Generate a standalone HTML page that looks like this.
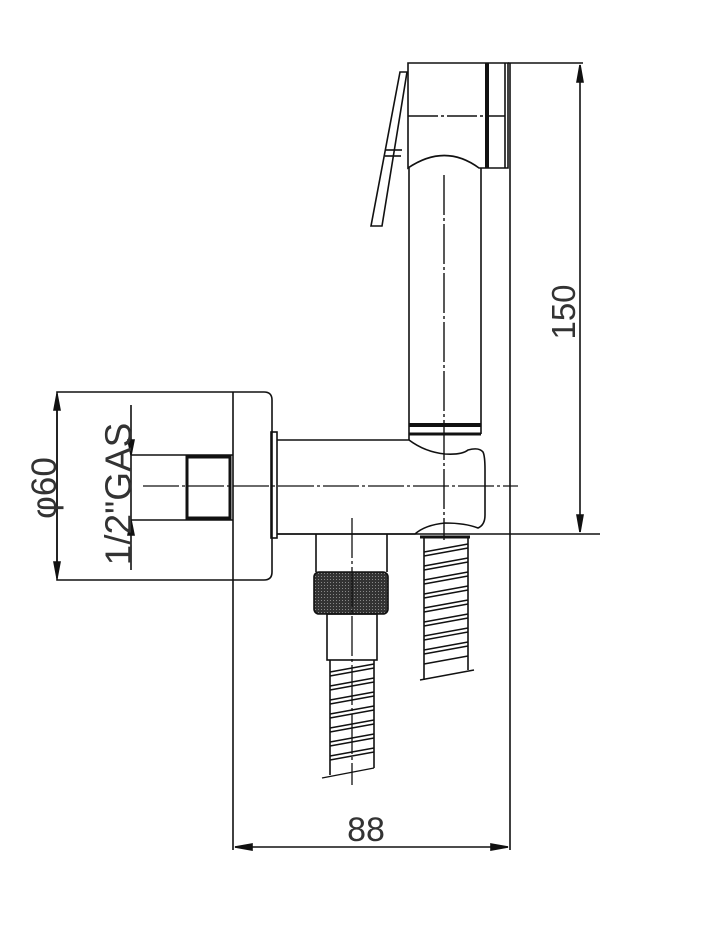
<!DOCTYPE html>
<html><head><meta charset="utf-8"><style>
html,body{margin:0;padding:0;background:#fff;}
svg{display:block;}
text{font-family:"Liberation Sans","DejaVu Sans",sans-serif;fill:#333;}
</style></head><body>
<svg width="703" height="950" viewBox="0 0 703 950" xmlns="http://www.w3.org/2000/svg">
<defs>
<pattern id="knurl" width="3" height="3" patternUnits="userSpaceOnUse">
<rect width="3" height="3" fill="#333"/><rect width="1" height="1" fill="#888"/>
</pattern>
</defs>
<g fill="none" stroke="#111" stroke-width="1.6">
<path d="M57,392 H264 Q272,392 272,400 V572 Q272,580 264,580 H57 Z"/>
<line x1="233" y1="392" x2="233" y2="850"/>
<line x1="57" y1="394" x2="57" y2="578"/>
<path d="M54,410 L57,394 L60,410 Z M54,562 L57,578 L60,562 Z" fill="#111"/>
<line x1="131" y1="405" x2="131" y2="570"/>
<path d="M128,440 L131,455 L134,440 Z M128,535 L131,520 L134,535 Z" fill="#111"/>
<line x1="131" y1="455" x2="233" y2="455"/>
<line x1="131" y1="520" x2="233" y2="520"/>
<rect x="187" y="457" width="43" height="61" stroke-width="3"/>
<line x1="187" y1="455" x2="187" y2="520" stroke-width="3"/>
<line x1="143" y1="486" x2="518" y2="486" stroke-width="1.2" stroke-dasharray="36,3,3,3"/>
<rect x="271" y="432" width="6" height="106"/>
<path d="M277,440 H409 Q425,452 445,454 Q462,455 468,450 Q479,447 483,452 Q485,456 485,470 V515 Q485,525 478,528 Q465,523 445,523 Q425,525 415,534 H277"/>
<line x1="277" y1="534" x2="600" y2="534"/>
<line x1="409" y1="168" x2="409" y2="440"/>
<line x1="481" y1="168" x2="481" y2="434"/>
<line x1="409" y1="425" x2="481" y2="425" stroke-width="4"/>
<line x1="409" y1="434" x2="481" y2="434" stroke-width="3"/>
<line x1="444" y1="175" x2="444" y2="540" stroke-width="1.4" stroke-dasharray="40,3,3,3"/>
<path d="M408,63 H508 V168 H479 Q445,143 408,168 Z"/>
<line x1="487" y1="63" x2="487" y2="168" stroke-width="4"/>
<line x1="505" y1="63" x2="505" y2="168"/>
<line x1="408" y1="116" x2="505" y2="116" stroke-dasharray="30,3,3,3"/>
<path d="M400,72 L407,72 L382,226 L371,226 Z"/>
<line x1="386" y1="150" x2="402" y2="150"/>
<line x1="385" y1="156" x2="401" y2="156"/>
<line x1="508" y1="63" x2="583" y2="63"/>
<line x1="580" y1="65" x2="580" y2="532"/>
<path d="M577,82 L580,65 L583,82 Z M577,515 L580,532 L583,515 Z" fill="#111"/>
<line x1="510" y1="63" x2="510" y2="850"/>
<line x1="235" y1="847" x2="508" y2="847"/>
<path d="M252,844 L235,847 L252,850 Z M491,844 L508,847 L491,850 Z" fill="#111"/>
<path d="M316,534 V572 M387,534 V572"/>
<rect x="314" y="572" width="74" height="42" rx="5" fill="url(#knurl)"/>
<rect x="327" y="614" width="50" height="46"/>
<line x1="352" y1="518" x2="352" y2="785" stroke-width="1.3" stroke-dasharray="40,3,3,3"/>
<path d="M330,660 V775 M374,660 V768"/>
<path d="M330,672 L374,664 M330,676 L374,668 M330,686 L374,678 M330,690 L374,682 M330,700 L374,692 M330,704 L374,696 M330,714 L374,706 M330,718 L374,710 M330,728 L374,720 M330,732 L374,724 M330,742 L374,734 M330,746 L374,738 M330,756 L374,748 M330,760 L374,752 M322,778 L374,768" stroke-width="1.4"/>
<path d="M424,536 V680 M468,536 V670"/>
<line x1="420" y1="537" x2="470" y2="537" stroke-width="3"/>
<path d="M424,552 L468,544 M424,556 L468,548 M424,566 L468,558 M424,570 L468,562 M424,580 L468,572 M424,584 L468,576 M424,594 L468,586 M424,598 L468,590 M424,608 L468,600 M424,612 L468,604 M424,622 L468,614 M424,626 L468,618 M424,636 L468,628 M424,640 L468,632 M424,650 L468,642 M424,654 L468,646 M424,664 L468,656 M420,680 L474,670" stroke-width="1.4"/>
</g>
<text x="0" y="0" font-size="35" text-anchor="middle" transform="translate(56,488) rotate(-90)">&#966;60</text>
<text x="0" y="0" font-size="37" text-anchor="middle" transform="translate(131,494) rotate(-90)">1/2"GAS</text>
<text x="0" y="0" font-size="33" text-anchor="middle" transform="translate(575,312) rotate(-90)">150</text>
<text x="366" y="841" font-size="34" text-anchor="middle">88</text>
</svg>
</body></html>
